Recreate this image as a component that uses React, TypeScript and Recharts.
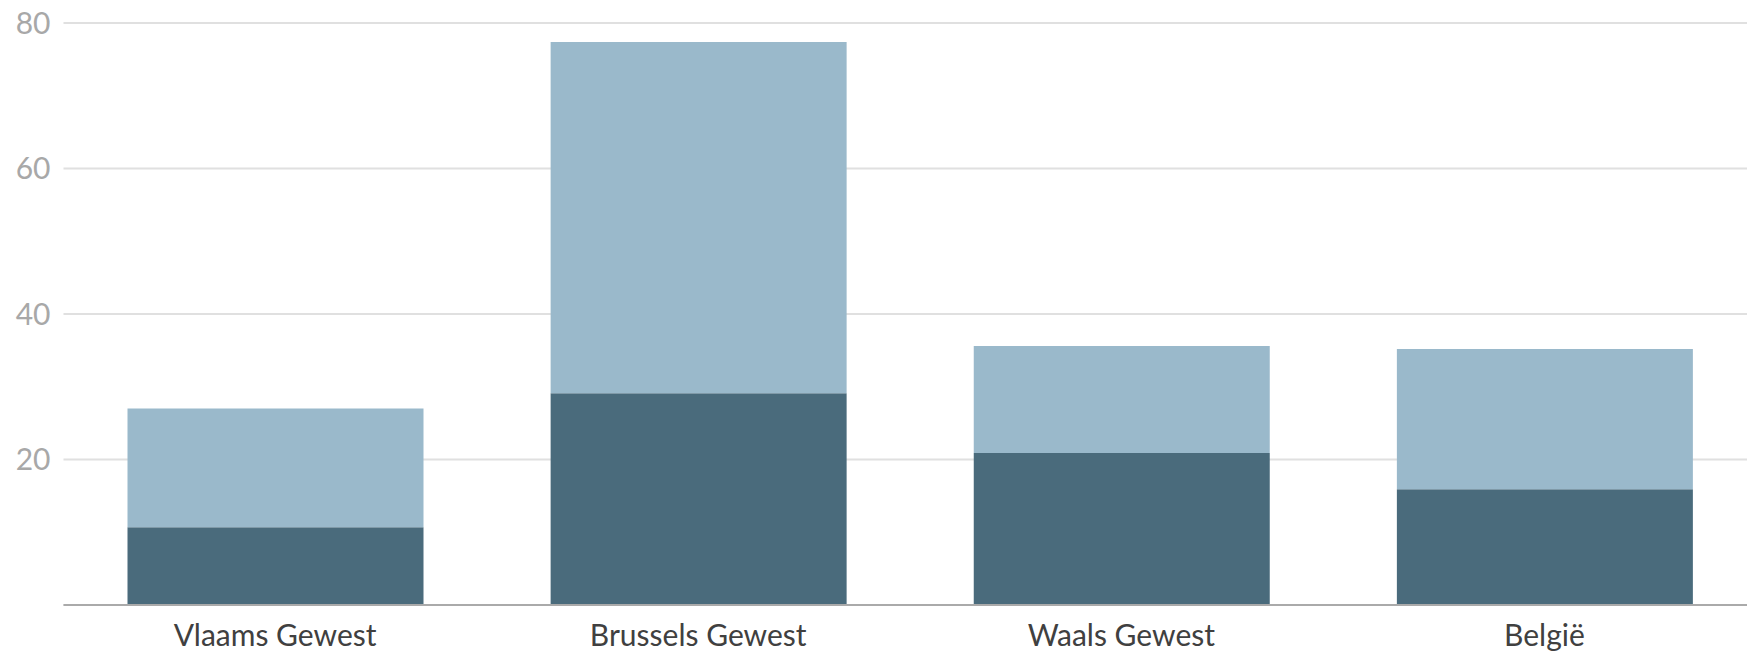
import { Bar, BarChart, CartesianGrid, XAxis, YAxis } from "recharts";

const regions = ["Vlaams Gewest", "Brussels Gewest", "Waals Gewest", "België"];
const lowerValues = [10.7, 29.1, 20.9, 15.9];
const upperValues = [16.3, 48.3, 14.7, 19.3];
const yTicks = [20, 40, 60, 80];

const DARK = "#4a6b7c";
const LIGHT = "#9ab9cb";

const data = regions.map((region, i) => ({
  region,
  lower: lowerValues[i],
  upper: upperValues[i],
}));

const App = () => {
  return (
    <div
      style={{
        position: "fixed",
        top: 0,
        left: 0,
        width: 1747,
        height: 651,
        overflow: "hidden",
        background: "#fff",
        fontFamily: "Lato, sans-serif",
      }}
    >
      <BarChart
        width={1756}
        height={651}
        data={data}
        margin={{ top: 23, right: 0, bottom: 0, left: 0 }}
      >
        <CartesianGrid
          vertical={false}
          stroke="#e0e0e0"
          strokeWidth={2}
        />
        <XAxis
          dataKey="region"
          height={46}
          tickLine={false}
          tickSize={0}
          tickMargin={20}
          axisLine={{ stroke: "#aaaaaa", strokeWidth: 2 }}
          tick={{ fill: "#404040", fontSize: 30, fontFamily: "Lato" }}
        />
        <YAxis
          width={63.5}
          domain={[0, 80]}
          ticks={yTicks}
          axisLine={false}
          tickLine={false}
          tickSize={0}
          tickMargin={13}
          tick={{ fill: "#a8a8a8", fontSize: 30, fontFamily: "Lato" }}
        />
        <Bar
          dataKey="lower"
          stackId="a"
          fill={DARK}
          barSize={296}
          isAnimationActive={false}
        />
        <Bar
          dataKey="upper"
          stackId="a"
          fill={LIGHT}
          barSize={296}
          isAnimationActive={false}
        />
      </BarChart>
    </div>
  );
};

export default App;
